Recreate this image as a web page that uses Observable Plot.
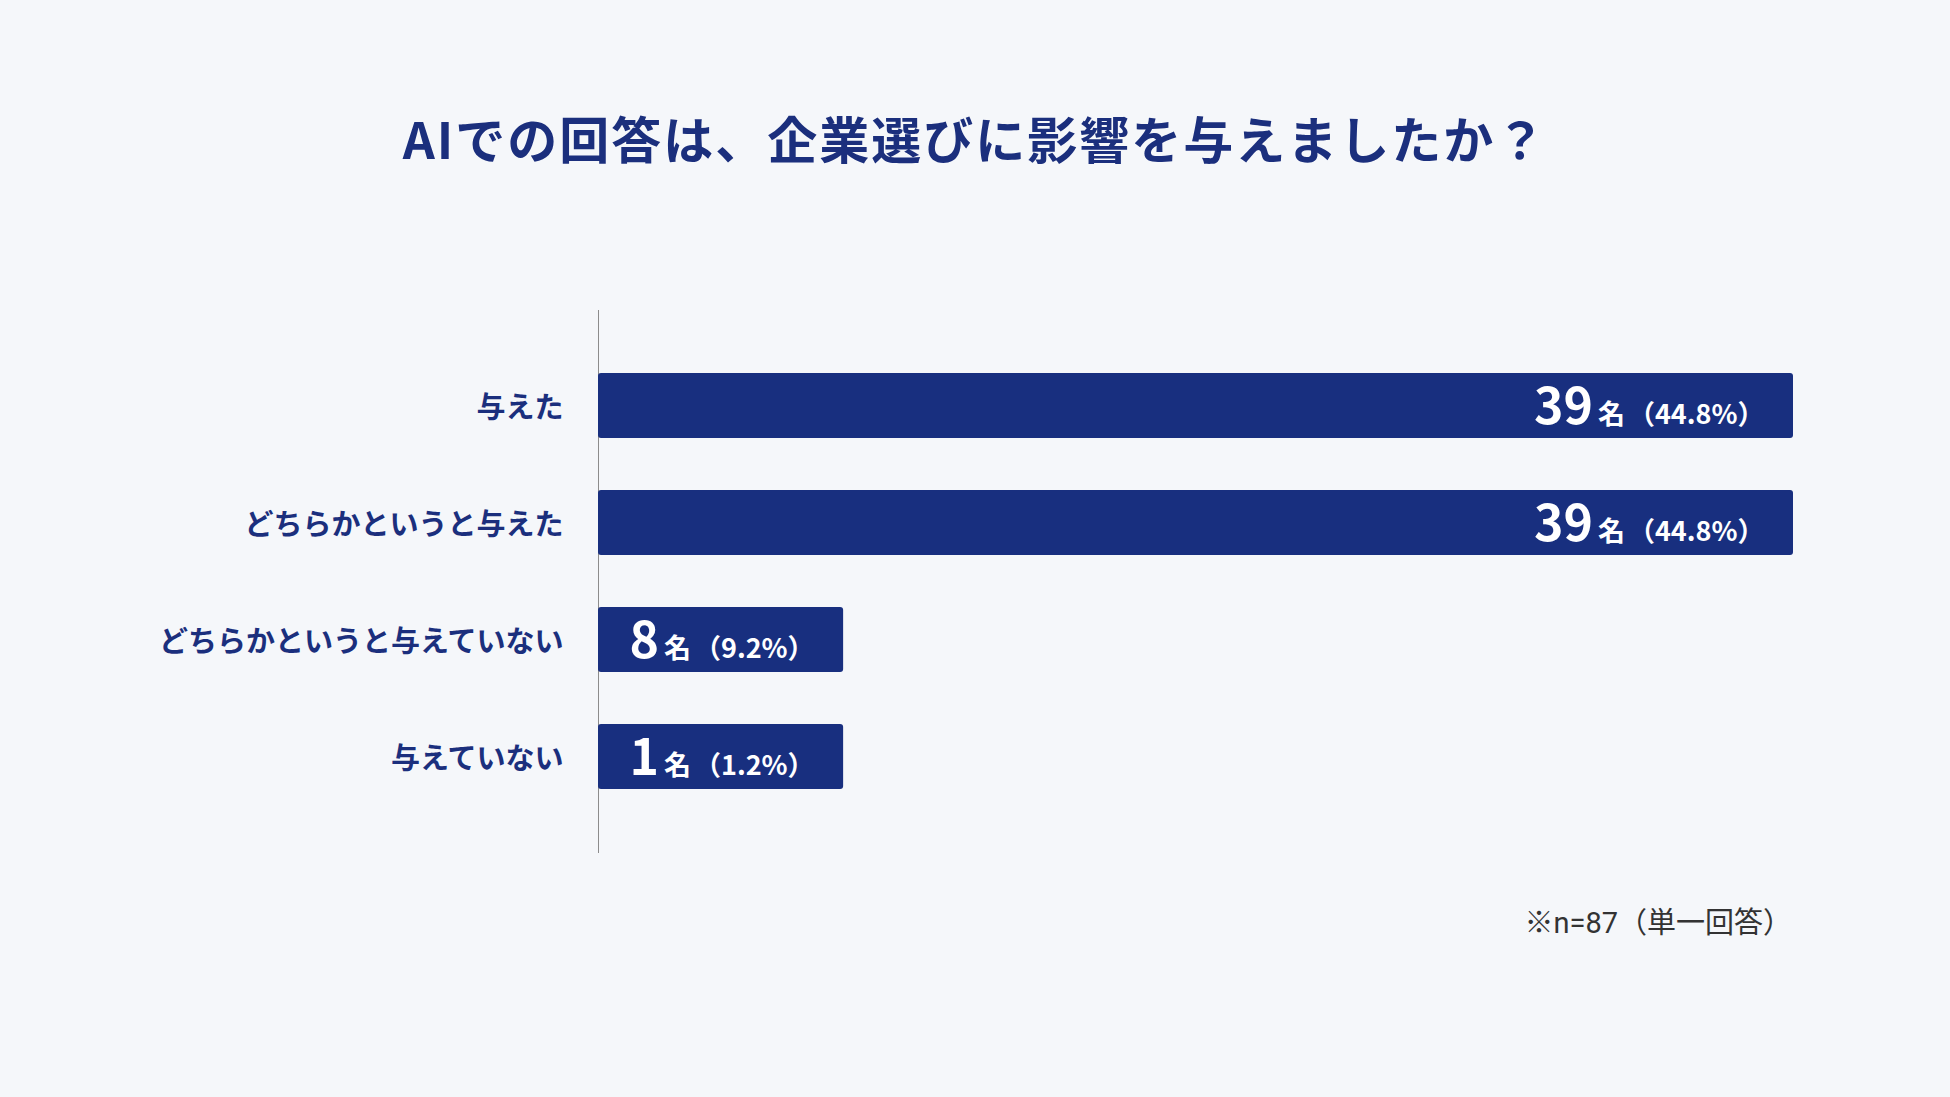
<!DOCTYPE html>
<html><head><meta charset="utf-8">
<script src="https://cdn.jsdelivr.net/npm/d3@7"></script>
<script src="https://cdn.jsdelivr.net/npm/@observablehq/plot@0.6"></script>
<style>
body{margin:0;background:#f5f7fa;font-family:"Noto Sans CJK JP","Noto Sans",sans-serif;}
#wrap{position:relative;width:1950px;height:1097px;overflow:hidden;background:#f5f7fa;}
#title{position:absolute;left:0;top:109px;width:1950px;text-align:center;font-size:50px;font-weight:700;color:#1b2f7d;line-height:56px;letter-spacing:2px;}
#chart{position:absolute;left:0;top:250px;}
#note{position:absolute;right:158px;top:904px;font-family:Roboto,"Noto Sans CJK JP",sans-serif;font-size:29px;color:#333;line-height:38px;}
</style></head><body>
<div id="wrap">
<div id="title">AIでの回答は、企業選びに影響を与えましたか？</div>
<div id="chart"></div>
<div id="note">※n=87（単一回答）</div>
</div>
<script>
const categories = ["与えた", "どちらかというと与えた", "どちらかというと与えていない", "与えていない"];
const counts = [39, 39, 8, 1];
const percents = ["44.8", "44.8", "9.2", "1.2"];
const unitLabel = "名";
const minBarCount = 8; // shortest bar drawn (in respondents) so its label fits, as in the reference

const data = categories.map((c, i) => ({cat: c, count: counts[i], pct: percents[i]}));
const navy = "#182f7f";

const chart = Plot.plot({
  width: 1950,
  height: 633,
  marginLeft: 598,
  marginRight: 157,
  marginTop: 60,
  marginBottom: 30,
  style: {fontFamily: "'Noto Sans CJK JP', 'Noto Sans', sans-serif", background: "transparent", overflow: "visible"},
  x: {domain: [0, 39], axis: null},
  y: {domain: categories, axis: null, paddingInner: 0.444, paddingOuter: 0.54},
  marks: [
    Plot.ruleX([0], {stroke: "#8c8c8c", strokeWidth: 1}),
    Plot.barX(data, {x: d => Math.max(d.count, minBarCount), y: "cat", fill: navy, rx: 3}),
    Plot.axisY({tickSize: 0, tickPadding: 35, fontSize: 29, fontWeight: 700, fill: "#1b2f7d", color: "#1b2f7d", label: null, dy: 3}),
    Plot.text(data, {
      x: d => Math.max(d.count, minBarCount), y: "cat",
      text: d => `${d.count}${unitLabel}（${d.pct}%）`,
      textAnchor: "end", dx: -29, dy: 2,
      fill: "white", fontSize: 50, fontWeight: 700
    })
  ]
});

d3.select(chart).selectAll('g[aria-label="text"] text').each(function() {
  const s = this.textContent;
  const m = s.match(/^(\d+)(名)(.*)$/);
  if (!m) return;
  const t = d3.select(this);
  t.text(null);
  t.append("tspan").attr("font-size", 50).attr("font-weight", 700).text(m[1]);
  t.append("tspan").attr("font-size", 27).attr("font-weight", 700).attr("dx", 5).text(m[2]);
  t.append("tspan").attr("font-size", 27).attr("font-weight", 700).attr("dx", 3).text(m[3]);
});

document.getElementById("chart").append(chart);
</script>
</body></html>
